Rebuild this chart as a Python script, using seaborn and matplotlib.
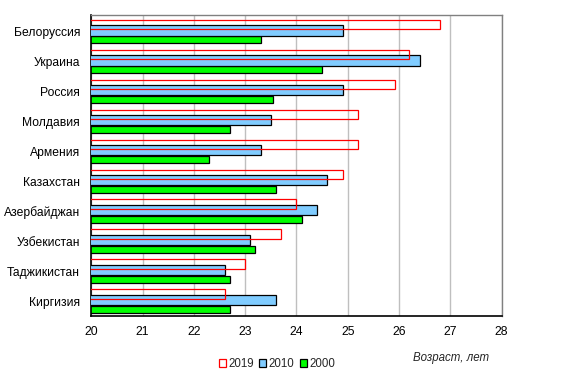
import matplotlib
matplotlib.use("Agg")
import matplotlib.pyplot as plt
from matplotlib.patches import Patch
import seaborn as sns
import numpy as np

countries = ["Белоруссия", "Украина", "Россия", "Молдавия", "Армения",
             "Казахстан", "Азербайджан", "Узбекистан", "Таджикистан", "Киргизия"]
age_2019 = [26.8, 26.2, 25.93, 25.2, 25.2, 24.9, 24.0, 23.7, 23.0, 22.6]
age_2010 = [24.9, 26.4, 24.9, 23.5, 23.3, 24.6, 24.4, 23.1, 22.6, 23.6]
age_2000 = [23.3, 24.5, 23.55, 22.7, 22.3, 23.6, 24.1, 23.2, 22.7, 22.7]

sns.set_style("white")
plt.rcParams["font.family"] = ["Liberation Sans", "DejaVu Sans"]
FS = 8.3

fig = plt.figure(figsize=(5.74, 3.85), dpi=100)
ax = fig.add_axes([0.159, 0.179, 0.715, 0.781])

idx = np.arange(len(countries))

# green (2000) first, then blue (2010), red outline (2019) on top
sns.barplot(x=age_2000, y=idx + 0.273, orient="h", native_scale=True, width=0.233,
            color="#00FF00", edgecolor="black", linewidth=0.9, saturation=1,
            errorbar=None, ax=ax, zorder=2)
sns.barplot(x=age_2010, y=idx - 0.03, orient="h", native_scale=True, width=0.343,
            color="#80CCFF", edgecolor="black", linewidth=0.9, saturation=1,
            errorbar=None, ax=ax, zorder=3)
sns.barplot(x=age_2019, y=idx - 0.233, orient="h", native_scale=True, width=0.313,
            fill=False, color="#FF0000", linewidth=0.9, saturation=1,
            errorbar=None, ax=ax, zorder=4)

ax.set_xlim(20, 28)
ax.set_ylim(9.5, -0.53)
ax.set_xticks(range(20, 29))
ax.set_yticks(idx)
ax.set_yticklabels(countries)
ax.set_xlabel("")
ax.set_ylabel("")
ax.tick_params(axis="both", length=0, labelsize=FS + 0.4, colors="black")
ax.tick_params(axis="x", pad=7)
ax.tick_params(axis="y", pad=8)
ax.xaxis.grid(True, color="#BFBFBF", linewidth=1)
ax.set_axisbelow(True)

for side in ["left", "bottom"]:
    ax.spines[side].set_color("black")
    ax.spines[side].set_linewidth(1.2)
for side in ["top", "right"]:
    ax.spines[side].set_color("#808080")
    ax.spines[side].set_linewidth(1)
    ax.spines[side].set_visible(True)

fig.text(451 / 574, 1 - 358 / 385, "Возраст, лет", ha="center", va="center",
         fontsize=FS, style="italic")

handles = [Patch(facecolor="white", edgecolor="#FF0000", linewidth=0.9, label="2019"),
           Patch(facecolor="#80CCFF", edgecolor="black", linewidth=0.9, label="2010"),
           Patch(facecolor="#00FF00", edgecolor="black", linewidth=0.9, label="2000")]
fig.legend(handles=handles, loc="center", bbox_to_anchor=(277 / 574, 1 - 364 / 385),
           ncol=3, frameon=False, fontsize=FS, handlelength=0.6, handleheight=0.6,
           handletextpad=0.2, columnspacing=0.5, borderpad=0)

fig.savefig("out.png", dpi=100)
